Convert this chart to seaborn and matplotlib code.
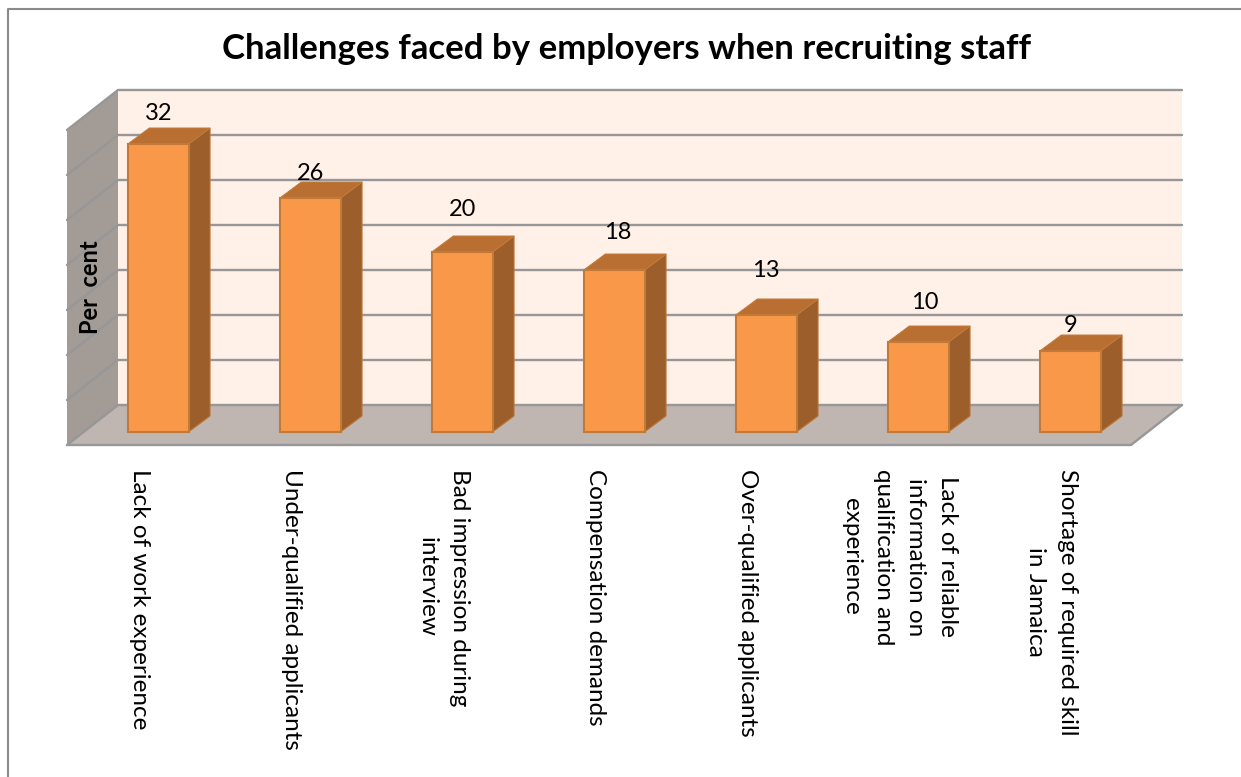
import numpy as np
import pandas as pd
import matplotlib
matplotlib.use("Agg")
import matplotlib.pyplot as plt
from matplotlib.lines import Line2D
from matplotlib.patches import Polygon
from matplotlib.transforms import ScaledTranslation
import seaborn as sns

# Survey results
categories = [
    "Lack of work experience",
    "Under-qualified applicants",
    "Bad impression during\ninterview",
    "Compensation demands",
    "Over-qualified applicants",
    "Lack of reliable\ninformation on\nqualification and\nexperience",
    "Shortage of required skill\nin Jamaica",
]
percentages = [32, 26, 20, 18, 13, 10, 9]
grid_values = [0, 5, 10, 15, 20, 25, 30, 35]
title_text = "Challenges faced by employers when recruiting staff"
axis_label = "Per  cent"

# Colours of the pseudo-3D box and columns
BACK_WALL = "#FFF0E8"
SIDE_WALL = "#A39B96"
FLOOR = "#BFB5B1"
GRID = "#979797"
BAR_FRONT = "#F99848"
BAR_EDGE = "#C27A38"
BAR_SIDE = "#9C5F2B"
BAR_TOP = "#B96F31"
FRAME = "#8A8A8A"

# Perspective offsets, in data units
BOX_DX, BOX_DY = 51 / 152, 40 / 9
BAR_DX, BAR_DY = 21.5 / 152, 16 / 9
BAR_SHIFT = 0.1
FLOOR_Y = -13 / 9
X0, X1 = -0.5, 6.5

# Nudges for the value labels (x in category units, y in value units above the column)
label_dx = [0, 0, 0, 4 / 152, 0, 7 / 152, 0]
label_dy = [1.6, 0.9, 3.0, 2.4, 3.2, 2.6, 1.1]

sns.set_theme(style="white")
plt.rcParams["font.family"] = ["Lato", "DejaVu Sans"]

fig = plt.figure(figsize=(12.41, 7.77), dpi=100)
ax = fig.add_axes([67 / 1241, (777 - 445) / 777, 1064 / 1241, 355 / 777])
ax.patch.set_visible(False)

# Columns: the front faces come from seaborn, placed mid-depth on the floor
frame = pd.DataFrame({"pos": np.arange(len(categories)) + BAR_SHIFT, "value": percentages})
sns.barplot(data=frame, x="pos", y="value", native_scale=True, width=0.4, color=BAR_FRONT,
            saturation=1, edgecolor=BAR_EDGE, linewidth=1.5, zorder=5, ax=ax)

ax.set_xlim(X0, X1)
ax.set_ylim(FLOOR_Y, FLOOR_Y + BOX_DY + 35)
ax.set_axisbelow(False)

def add_face(points, color, zorder, edge="none", lw=0):
    ax.add_patch(Polygon(points, closed=True, facecolor=color, edgecolor=edge, linewidth=lw,
                         zorder=zorder, clip_on=False))

# Box walls and floor
back_y0 = FLOOR_Y + BOX_DY
back_x0, back_x1 = X0 + BOX_DX, X1 + BOX_DX
add_face([(back_x0, back_y0), (back_x1, back_y0), (back_x1, back_y0 + 35), (back_x0, back_y0 + 35)],
         BACK_WALL, 1)
add_face([(X0, FLOOR_Y), (back_x0, back_y0), (back_x0, back_y0 + 35), (X0, FLOOR_Y + 35)],
         SIDE_WALL, 1)
add_face([(X0, FLOOR_Y), (X1, FLOOR_Y), (back_x1, back_y0), (back_x0, back_y0)], FLOOR, 1)

# Grid lines run along the back wall and down the side wall
for v in grid_values:
    ax.plot([X0, back_x0, back_x1], [FLOOR_Y + v, back_y0 + v, back_y0 + v],
            color=GRID, lw=1.7, zorder=2, clip_on=False, solid_joinstyle="miter")
ax.plot([X0, X1, back_x1], [FLOOR_Y, FLOOR_Y, back_y0], color=GRID, lw=1.7, zorder=2, clip_on=False)

# Side and top faces of each column, built from its front face
for patch, value, dx, dy in zip(ax.patches[:len(percentages)], percentages, label_dx, label_dy):
    left, right = patch.get_x(), patch.get_x() + patch.get_width()
    add_face([(right, 0), (right + BAR_DX, BAR_DY), (right + BAR_DX, value + BAR_DY), (right, value)],
             BAR_SIDE, 4, BAR_EDGE, 0.7)
    add_face([(left, value), (right, value), (right + BAR_DX, value + BAR_DY), (left + BAR_DX, value + BAR_DY)],
             BAR_TOP, 4, BAR_EDGE, 0.7)
    ax.text((left + right) / 2 + dx, value + BAR_DY + dy, str(value), ha="center", va="center",
            fontsize=17, color="black", zorder=6)

# Category labels read downward beneath the floor
sns.despine(ax=ax, left=True, bottom=True)
ax.set_xticks(range(len(categories)))
ax.set_xticklabels(categories, rotation=-90, ha="center", va="top", multialignment="center",
                   fontsize=17.5, color="black", linespacing=1.65)
ax.tick_params(axis="x", length=0, pad=17)
shift_left = ScaledTranslation(-3.5 / 100, 0, fig.dpi_scale_trans)
for tick_label in ax.get_xticklabels():
    tick_label.set_transform(tick_label.get_transform() + shift_left)
ax.set_yticks([])
ax.set_xlabel("")
ax.set_ylabel(axis_label, fontsize=17, fontweight="bold", color="black")
ax.yaxis.set_label_coords(24 / 1064, (445 - 287) / 355)
ax.yaxis.label.set_va("center")

fig.text(627 / 1241, 1 - 49 / 777, title_text, ha="center", va="center", fontsize=25,
         fontweight="bold", color="black")

# Chart-area frame along the top and left
fig.add_artist(Line2D([8 / 1241, 8 / 1241, 1], [0, 1 - 9 / 777, 1 - 9 / 777], color=FRAME, lw=1.5,
                      transform=fig.transFigure))

fig.savefig("out.png", dpi=100)
